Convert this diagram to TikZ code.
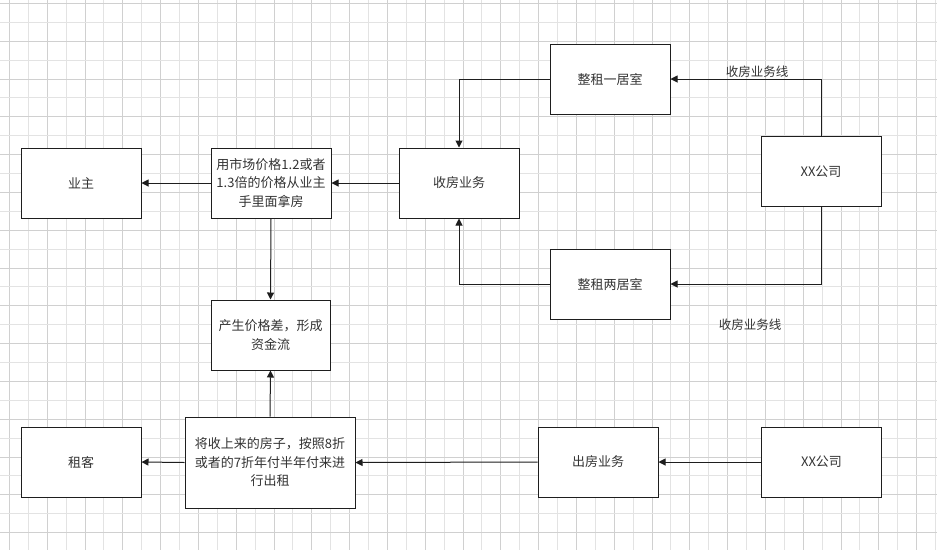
\documentclass[tikz,border=0pt]{standalone}
\usepackage{fontspec}
\setmainfont{Noto Sans CJK SC}
\usetikzlibrary{arrows.meta}
\definecolor{gridD}{HTML}{D0D0D0}
\definecolor{gridL}{HTML}{E3E3E3}
\definecolor{txt}{HTML}{333333}
\definecolor{edge}{HTML}{1E1E1E}
\tikzset{
  box/.style={draw=edge, line width=1pt, fill=white, rectangle, minimum width=120pt, minimum height=70pt, inner sep=2pt, align=center, text=txt, font=\fontsize{13}{18.5}\selectfont},
  lbl/.style={text=txt, inner sep=1pt, font=\fontsize{12.5}{15}\selectfont},
  arr/.style={draw=edge, line width=1pt, -{Triangle[length=7pt,width=7pt]}}
}
\begin{document}
\begin{tikzpicture}[x=1pt,y=-1pt]
\useasboundingbox (0,0) rectangle (937,550);
\fill[white] (0,0) rectangle (937,550);
% grid
\foreach \i in {0,...,49}{
  \pgfmathsetmacro\xx{9.3+18.9*\i}
  \pgfmathtruncatemacro\ev{mod(\i,2)}
  \ifnum\ev=0 \draw[gridD, line width=0.7pt] (\xx,0) -- (\xx,550);
  \else \draw[gridL, line width=0.7pt] (\xx,0) -- (\xx,550); \fi
}
\foreach \i in {0,...,29}{
  \pgfmathsetmacro\yy{3.3+18.9*\i}
  \pgfmathtruncatemacro\ev{mod(\i,2)}
  \ifnum\ev=0 \draw[gridD, line width=0.7pt] (0,\yy) -- (937,\yy);
  \else \draw[gridL, line width=0.7pt] (0,\yy) -- (937,\yy); \fi
}
% nodes
\node[box] (yezhu) at (81,183) {业主};
\node[box] (buy) at (271,183) {用市场价格1.2或者\\1.3倍的价格从业主\\手里面拿房};
\node[box] (shoufang) at (459,183) {收房业务};
\node[box] (yiju) at (610,79) {整租一居室};
\node[box] (xx1) at (821,171.5) {XX公司};
\node[box] (liangju) at (610,284) {整租两居室};
\node[box, minimum width=119pt] (diff) at (270.5,335) {产生价格差，形成\\资金流};
\node[box, minimum width=170pt, minimum height=91pt] (rent) at (270,462.5) {将收上来的房子，按照8折\\或者的7折年付半年付来进\\行出租};
\node[box] (zuke) at (81,462) {租客};
\node[box] (chufang) at (598,462) {出房业务};
\node[box] (xx2) at (821.5,462) {XX公司};
% labels
\node[lbl] (l1) at (757,72) {收房业务线};
\node[lbl] (l2) at (750,325) {收房业务线};
% connectors
\draw[arr] (yiju.west) -| (shoufang.north);
\draw[arr] (xx1.north) |- (yiju.east);
\draw[arr] (xx1.south) |- (liangju.east);
\draw[arr] (liangju.west) -| (shoufang.south);
\draw[arr] (shoufang.west) -- (buy.east);
\draw[arr] (buy.west) -- (yezhu.east);
\draw[arr] (buy.south) -- (diff.north);
\draw[arr] (rent.north) -- (diff.south);
\draw[arr] (rent.west) -- (zuke.east);
\draw[arr] (chufang.west) -- (rent.east);
\draw[arr] (xx2.west) -- (chufang.east);
\end{tikzpicture}
\end{document}
